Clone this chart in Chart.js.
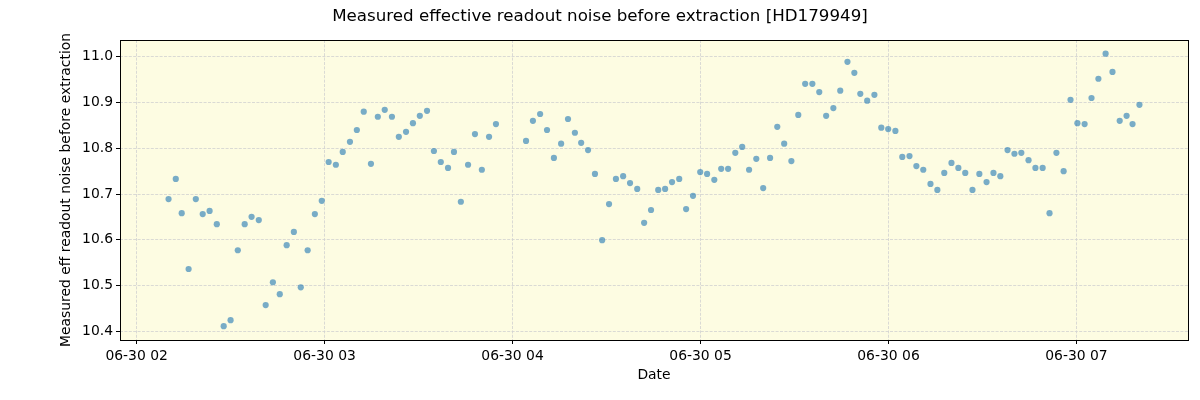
<!DOCTYPE html>
<html>
<head>
<meta charset="utf-8">
<script src="https://cdn.jsdelivr.net/npm/chart.js@4/dist/chart.umd.min.js"></script>
<style>
  html, body { margin: 0; padding: 0; background: #ffffff; }
  #wrap { width: 1200px; height: 400px; position: relative; }
</style>
</head>
<body>
<div id="wrap"><canvas id="c" width="1200" height="400"></canvas></div>
<script>
// Minutes after 06-30 02:00
const minutesAfter0200 = [
  10.2, 12.5, 14.4, 16.6, 18.9, 21.1, 23.3, 25.6, 27.8, 30.0,
  32.3, 34.5, 36.7, 39.0, 41.2, 43.5, 45.7, 47.9, 50.2, 52.4,
  54.6, 56.9, 59.1, 61.3, 63.6, 65.8, 68.1, 70.3, 72.5, 74.8,
  77.0, 79.2, 81.5, 83.7, 86.0, 88.2, 90.4, 92.7, 94.9, 97.1,
  99.4, 101.3, 103.5, 105.8, 108.0, 110.2, 112.5, 114.7,
  124.3, 126.5, 128.8, 131.0, 133.2, 135.5, 137.7, 139.9, 141.9, 144.1,
  146.3, 148.6, 150.8, 153.0, 155.3, 157.5, 159.8, 162.0, 164.2, 166.5,
  168.7, 170.9, 173.2, 175.4, 177.6, 179.9, 182.1, 184.4, 186.6, 188.8,
  191.1, 193.3, 195.5, 197.8, 200.0, 202.2, 204.5, 206.7, 209.0, 211.2,
  213.4, 215.7, 217.9, 220.1, 222.4, 224.6, 226.9, 229.1, 231.0, 233.2,
  235.5, 237.7, 239.9, 242.2, 244.4, 246.7, 248.9, 251.1, 253.4, 255.6,
  257.8, 260.1, 262.3, 264.5, 266.8, 269.0, 271.3, 273.5, 275.7, 278.0,
  280.2, 282.4, 284.7, 286.9, 289.2, 291.4, 293.6, 295.9, 298.1, 300.3,
  302.6, 304.8, 307.0, 309.3, 311.5, 313.8, 316.0, 317.9, 320.1
];
const noiseValues = [
  10.689, 10.733, 10.658, 10.536, 10.689, 10.656, 10.663, 10.634, 10.411, 10.424,
  10.577, 10.634, 10.650, 10.643, 10.457, 10.507, 10.481, 10.588, 10.617, 10.496,
  10.577, 10.656, 10.685, 10.770, 10.764, 10.792, 10.814, 10.840, 10.880, 10.766,
  10.869, 10.884, 10.869, 10.825, 10.836, 10.855, 10.871, 10.882, 10.794, 10.770,
  10.757, 10.792, 10.683, 10.764, 10.831, 10.753, 10.825, 10.853,
  10.816, 10.860, 10.875, 10.840, 10.779, 10.810, 10.864, 10.834, 10.812, 10.796,
  10.744, 10.599, 10.678, 10.733, 10.739, 10.724, 10.711, 10.637, 10.665, 10.709,
  10.711, 10.726, 10.733, 10.667, 10.696, 10.748, 10.744, 10.731, 10.755, 10.755,
  10.790, 10.803, 10.753, 10.777, 10.713, 10.779, 10.847, 10.810, 10.772, 10.873,
  10.941, 10.941, 10.923, 10.871, 10.888, 10.926, 10.989, 10.965, 10.919, 10.904,
  10.917, 10.845, 10.842, 10.838, 10.781, 10.783, 10.761, 10.753, 10.722, 10.709,
  10.746, 10.768, 10.757, 10.746, 10.709, 10.744, 10.726, 10.746, 10.739, 10.796,
  10.788, 10.790, 10.774, 10.757, 10.757, 10.658, 10.790, 10.750, 10.906, 10.855,
  10.853, 10.910, 10.952, 11.007, 10.967, 10.860, 10.871, 10.853, 10.895
];
const xTickMinutes = [0, 60, 120, 180, 240, 300];
const xTickLabels = ['06-30 02', '06-30 03', '06-30 04', '06-30 05', '06-30 06', '06-30 07'];
const yTickValues = [10.4, 10.5, 10.6, 10.7, 10.8, 10.9, 11.0];

const titleText = 'Measured effective readout noise before extraction [HD179949]';
const yTitle = 'Measured eff readout noise before extraction';
const xTitle = 'Date';

const points = minutesAfter0200.map((m, i) => ({ x: m, y: noiseValues[i] }));

const FONT = 'DejaVu Sans';

const bgPlugin = {
  id: 'bgFrame',
  beforeDraw(chart) {
    const { ctx, chartArea: a } = chart;
    ctx.save();
    ctx.fillStyle = '#fdfce2';
    ctx.fillRect(a.left, a.top, a.right - a.left, a.bottom - a.top);
    ctx.restore();
  },
  afterDraw(chart) {
    const { ctx, chartArea: a } = chart;
    ctx.save();
    ctx.strokeStyle = '#000';
    ctx.lineWidth = 1;
    ctx.setLineDash([]);
    ctx.strokeRect(Math.round(a.left) + 0.5, Math.round(a.top) + 0.5,
                   Math.round(a.right - a.left), Math.round(a.bottom - a.top));
    // figure title, centred on the whole figure
    ctx.fillStyle = '#000';
    ctx.font = '16.7px "' + FONT + '"';
    ctx.textAlign = 'center';
    ctx.textBaseline = 'middle';
    ctx.fillText(titleText, chart.width / 2, 16.5);
    ctx.restore();
  }
};

new Chart(document.getElementById('c'), {
  type: 'scatter',
  data: {
    datasets: [{
      data: points,
      backgroundColor: 'rgba(31,119,180,0.6)',
      borderColor: 'rgba(31,119,180,0.6)',
      borderWidth: 0,
      pointRadius: 3.1,
      pointHoverRadius: 3.1
    }]
  },
  options: {
    responsive: false,
    animation: false,
    devicePixelRatio: 1,
    layout: { padding: { top: 40, right: 12, bottom: 0, left: 0 } },
    plugins: {
      legend: { display: false },
      tooltip: { enabled: false },
      title: { display: false }
    },
    scales: {
      x: {
        type: 'linear',
        min: -5.3,
        max: 335.6,
        afterBuildTicks: (axis) => { axis.ticks = xTickMinutes.map(v => ({ value: v })); },
        afterFit: (scale) => { scale.height = 60; },
        ticks: {
          color: '#000',
          font: { family: FONT, size: 13.9 },
          padding: 4,
          maxRotation: 0,
          autoSkip: false,
          callback: (v) => {
            const i = xTickMinutes.indexOf(v);
            return i >= 0 ? xTickLabels[i] : '';
          }
        },
        grid: {
          color: '#d0d0d0',
          lineWidth: 0.8,
          drawTicks: true,
          tickLength: 4,
          tickColor: '#000',
          tickWidth: 1,
          tickBorderDash: [0, 0]
        },
        border: { display: false, dash: [3, 1.4] },
        title: {
          display: true,
          text: xTitle,
          color: '#000',
          font: { family: FONT, size: 13.9 },
          padding: { top: 0, bottom: 16.6 }
        }
      },
      y: {
        type: 'linear',
        min: 10.3807,
        max: 11.0368,
        afterBuildTicks: (axis) => { axis.ticks = yTickValues.map(v => ({ value: v })); },
        afterFit: (scale) => { scale.width = 120; },
        ticks: {
          color: '#000',
          font: { family: FONT, size: 13.9 },
          padding: 3,
          callback: (v) => Number(v).toFixed(1)
        },
        grid: {
          color: '#d0d0d0',
          lineWidth: 0.8,
          drawTicks: true,
          tickLength: 4,
          tickColor: '#000',
          tickWidth: 1,
          tickBorderDash: [0, 0]
        },
        border: { display: false, dash: [3, 1.4] },
        title: {
          display: true,
          text: yTitle,
          color: '#000',
          font: { family: FONT, size: 13.9 },
          padding: { top: 57.6, bottom: 0 }
        }
      }
    }
  },
  plugins: [bgPlugin]
});
</script>
</body>
</html>
